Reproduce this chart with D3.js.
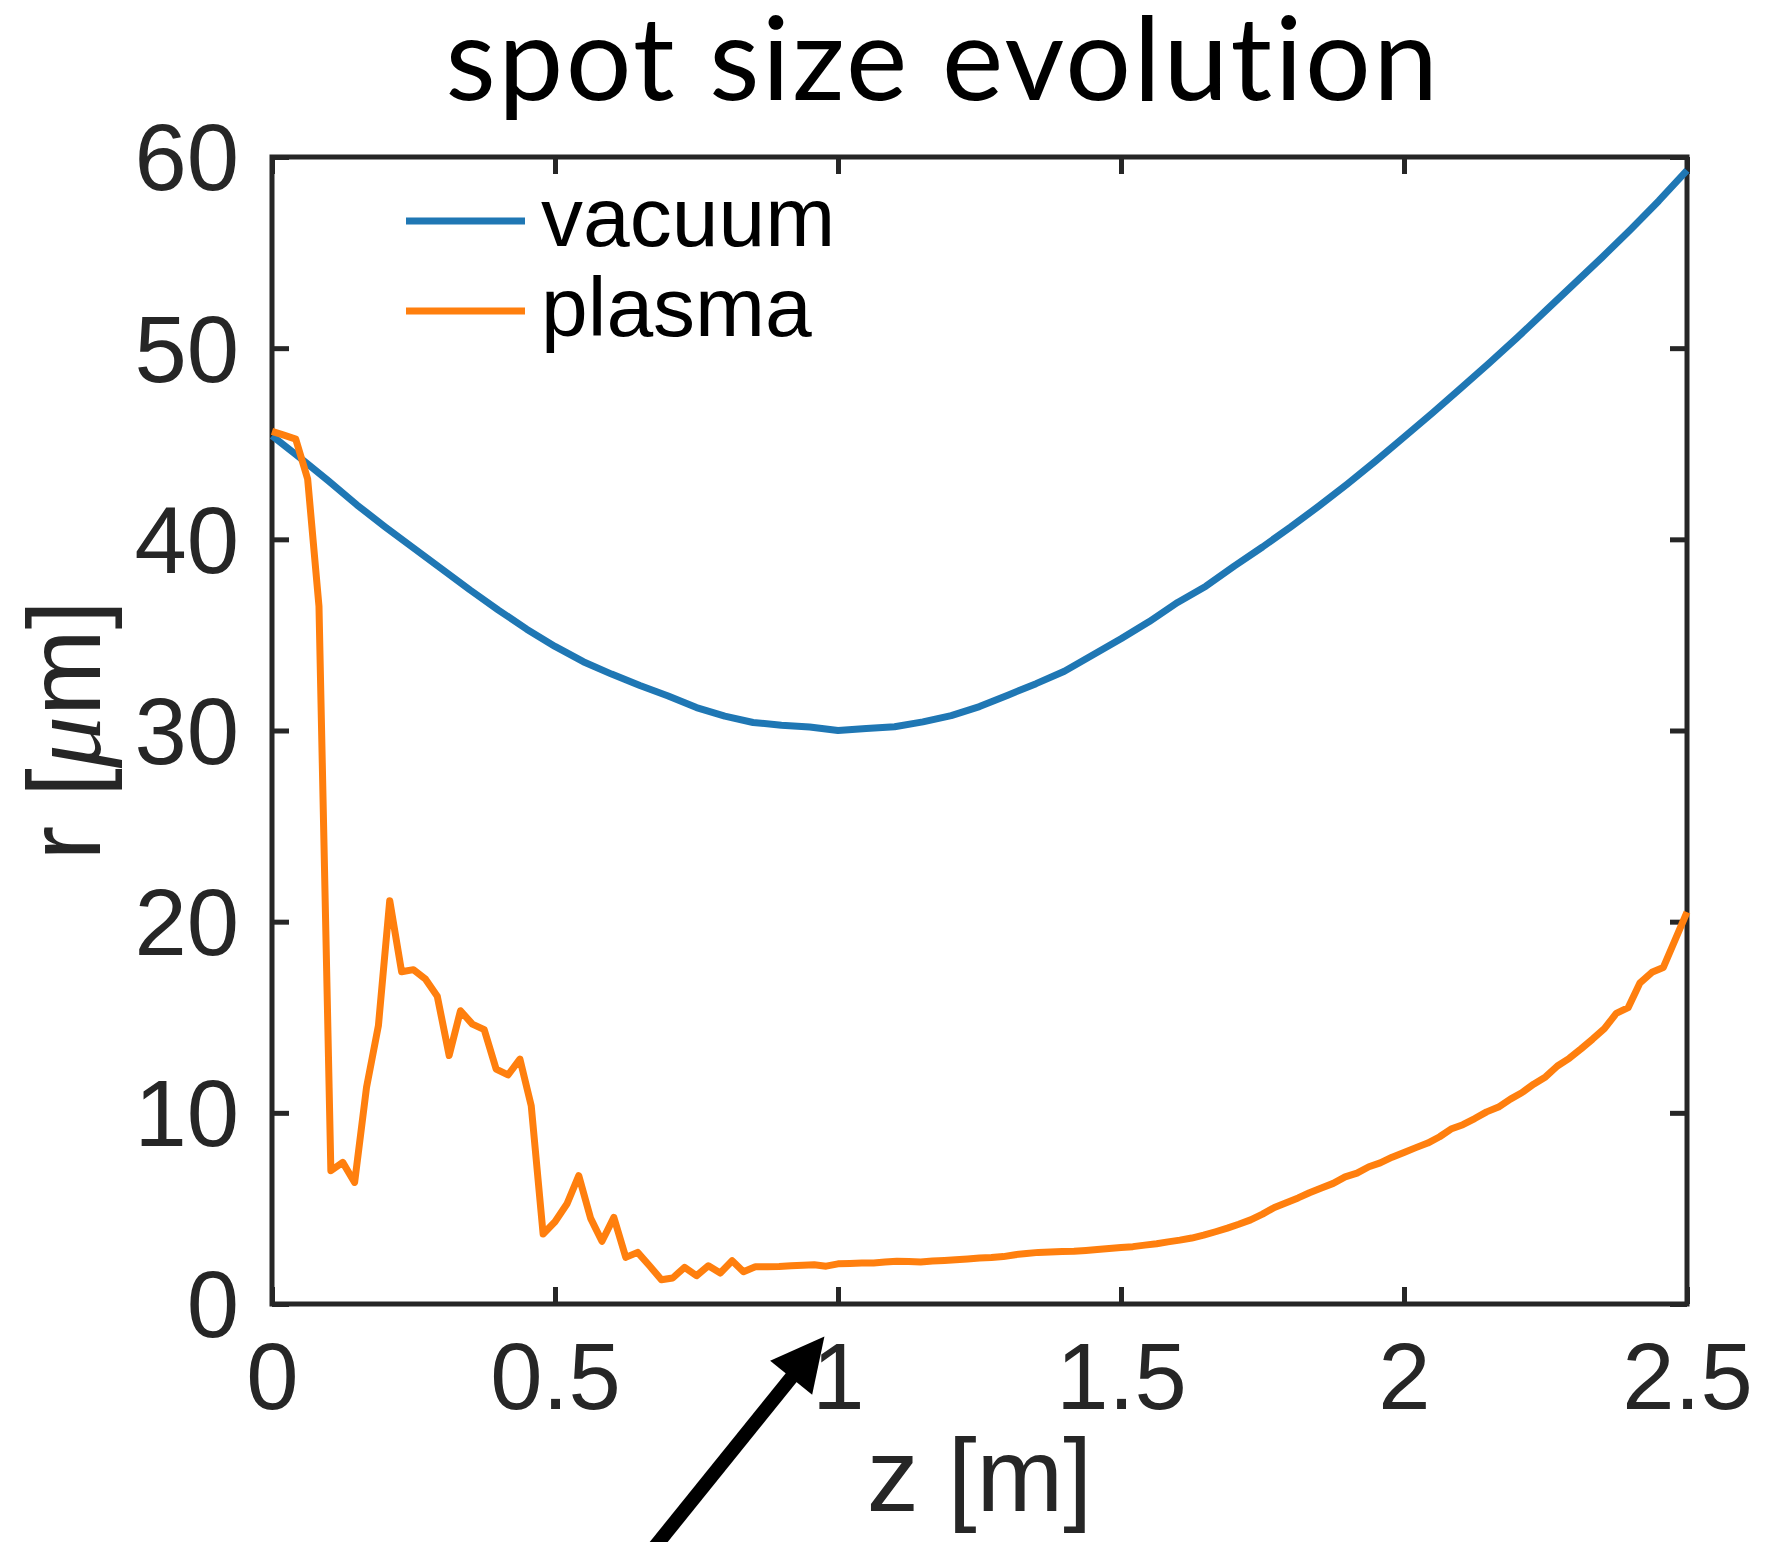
<!DOCTYPE html>
<html>
<head>
<meta charset="utf-8">
<script src="https://cdn.jsdelivr.net/npm/d3@7"></script>
<style>
  body { margin: 0; background: #fff; }
  svg { display: block; }
</style>
</head>
<body>
<svg id="plot"></svg>
<script>
// spot size r [um] along z [m]
const zTicks = [0, 0.5, 1, 1.5, 2, 2.5];
const rTicks = [0, 10, 20, 30, 40, 50, 60];

const seriesNames = ["vacuum", "plasma"];
const seriesColors = ["#1f77b4", "#ff7f0e"];

const vacuumZ = [0, 0.05, 0.1, 0.15, 0.2, 0.25, 0.3, 0.35, 0.4, 0.45,
  0.5, 0.55, 0.6, 0.65, 0.7, 0.75, 0.8, 0.85, 0.9, 0.95,
  1.0, 1.05, 1.1, 1.15, 1.2, 1.25, 1.3, 1.35, 1.4, 1.45,
  1.5, 1.55, 1.6, 1.65, 1.7, 1.75, 1.8, 1.85, 1.9, 1.95,
  2.0, 2.05, 2.1, 2.15, 2.2, 2.25, 2.3, 2.35, 2.4, 2.45, 2.5];
const vacuumR = [45.42, 44.25, 43.05, 41.8, 40.65, 39.55, 38.45, 37.35, 36.3, 35.3,
  34.4, 33.6, 32.95, 32.35, 31.8, 31.2, 30.75, 30.42, 30.28, 30.18,
  30.0, 30.1, 30.2, 30.45, 30.78, 31.25, 31.85, 32.45, 33.1, 33.95,
  34.8, 35.7, 36.7, 37.55, 38.6, 39.6, 40.65, 41.75, 42.9, 44.1,
  45.35, 46.6, 47.9, 49.2, 50.55, 51.95, 53.35, 54.75, 56.2, 57.7, 59.3];

const plasmaZ = [0, 0.021, 0.042, 0.063, 0.083, 0.104, 0.125, 0.146, 0.167, 0.188,
  0.208, 0.229, 0.25, 0.271, 0.292, 0.313, 0.333, 0.354, 0.375, 0.396,
  0.417, 0.438, 0.458, 0.479, 0.5, 0.521, 0.542, 0.563, 0.583, 0.604,
  0.625, 0.646, 0.667, 0.688, 0.708, 0.729, 0.75, 0.771, 0.792, 0.813,
  0.833, 0.854, 0.875, 0.896, 0.917, 0.938, 0.958, 0.979, 1.0, 1.021,
  1.042, 1.063, 1.083, 1.104, 1.125, 1.146, 1.167, 1.188, 1.208, 1.229,
  1.25, 1.271, 1.292, 1.313, 1.333, 1.354, 1.375, 1.396, 1.417, 1.438,
  1.458, 1.479, 1.5, 1.521, 1.542, 1.563, 1.583, 1.604, 1.625, 1.646,
  1.667, 1.688, 1.708, 1.729, 1.75, 1.771, 1.792, 1.813, 1.833, 1.854,
  1.875, 1.896, 1.917, 1.938, 1.958, 1.979, 2.0, 2.021, 2.042, 2.063,
  2.083, 2.104, 2.125, 2.146, 2.167, 2.188, 2.208, 2.229, 2.25, 2.271,
  2.292, 2.313, 2.333, 2.354, 2.375, 2.396, 2.417, 2.438, 2.458, 2.479, 2.5];
const plasmaR = [45.65, 45.45, 45.24, 43.15, 36.5, 6.97, 7.41, 6.36, 11.33, 14.56,
  21.1, 17.38, 17.49, 17.0, 16.1, 13.0, 15.34, 14.64, 14.35, 12.29,
  11.98, 12.81, 10.37, 3.66, 4.3, 5.23, 6.71, 4.48, 3.28, 4.53,
  2.44, 2.7, 2.0, 1.27, 1.36, 1.92, 1.48, 2.0, 1.62, 2.26,
  1.69, 1.95, 1.95, 1.96, 2.0, 2.03, 2.05, 1.98, 2.1, 2.12,
  2.14, 2.15, 2.2, 2.24, 2.22, 2.2, 2.25, 2.28, 2.32, 2.36,
  2.41, 2.43, 2.48, 2.58, 2.64, 2.7, 2.72, 2.74, 2.76, 2.8,
  2.85, 2.9, 2.96, 3.0, 3.08, 3.15, 3.25, 3.34, 3.45, 3.6,
  3.78, 3.97, 4.17, 4.4, 4.7, 5.05, 5.3, 5.55, 5.82, 6.07,
  6.31, 6.65, 6.85, 7.18, 7.38, 7.68, 7.93, 8.18, 8.42, 8.75,
  9.15, 9.38, 9.7, 10.05, 10.3, 10.72, 11.05, 11.5, 11.88, 12.45,
  12.85, 13.35, 13.85, 14.4, 15.2, 15.5, 16.8, 17.35, 17.6, 19.05, 20.5];

// arrow annotation below the axis (data units)
const arrowTip = [0.976, -1.7];
const arrowTail = [0.629, -14.44];

const W = 1768, H = 1542;
const axisColor = "#262626";
const sans = "'Liberation Sans', Arial, Helvetica, sans-serif";

const svg = d3.select("#plot").attr("width", W).attr("height", H);

const x = d3.scaleLinear().domain([0, 2.5]).range([272, 1687]);
const y = d3.scaleLinear().domain([0, 60]).range([1304, 157]);

const fmt = d3.format("");

// axes, ticks inward on all four sides
function styleAxis(g) {
  g.select(".domain").remove();
  g.selectAll(".tick line").attr("stroke", axisColor).attr("stroke-width", 5);
  g.selectAll(".tick text")
    .attr("fill", axisColor)
    .style("font-family", sans)
    .style("font-size", "94px");
}

svg.append("g")
  .attr("transform", `translate(0,${y(0)})`)
  .call(d3.axisBottom(x).tickValues(zTicks).tickSizeInner(-17).tickSizeOuter(0).tickFormat(fmt))
  .call(styleAxis)
  .call(g => g.selectAll(".tick text").attr("y", 105).attr("dy", null));

svg.append("g")
  .attr("transform", `translate(0,${y(60)})`)
  .call(d3.axisTop(x).tickValues(zTicks).tickSizeInner(-17).tickSizeOuter(0).tickFormat(""))
  .call(styleAxis);

svg.append("g")
  .attr("transform", `translate(${x(0)},0)`)
  .call(d3.axisLeft(y).tickValues(rTicks).tickSizeInner(-17).tickSizeOuter(0).tickPadding(33).tickFormat(fmt))
  .call(styleAxis)
  .call(g => g.selectAll(".tick text").attr("dy", "0.35em"));

svg.append("g")
  .attr("transform", `translate(${x(2.5)},0)`)
  .call(d3.axisRight(y).tickValues(rTicks).tickSizeInner(-17).tickSizeOuter(0).tickFormat(""))
  .call(styleAxis);

// box
svg.append("rect")
  .attr("x", x(0)).attr("y", y(60))
  .attr("width", x(2.5) - x(0)).attr("height", y(0) - y(60))
  .attr("fill", "none")
  .attr("stroke", axisColor)
  .attr("stroke-width", 5);

// data lines
const line = d3.line().x(d => x(d[0])).y(d => y(d[1]));
const series = [
  d3.zip(vacuumZ, vacuumR),
  d3.zip(plasmaZ, plasmaR)
];

svg.selectAll(".series")
  .data(series)
  .enter().append("path")
  .attr("class", "series")
  .attr("d", line)
  .attr("fill", "none")
  .attr("stroke", (d, i) => seriesColors[i])
  .attr("stroke-width", 7)
  .attr("stroke-linejoin", "round");

// legend
const legend = svg.append("g").attr("transform", "translate(406,221)");
seriesNames.forEach((name, i) => {
  legend.append("line")
    .attr("x1", 0).attr("x2", 119)
    .attr("y1", i * 90).attr("y2", i * 90)
    .attr("stroke", seriesColors[i])
    .attr("stroke-width", 7);
  legend.append("text")
    .attr("x", 135).attr("y", i * 90 + 25)
    .attr("fill", "#000")
    .style("font-family", sans)
    .style("font-size", "84px")
    .text(name);
});

// title
svg.append("text")
  .attr("x", 943).attr("y", 100)
  .attr("text-anchor", "middle")
  .attr("fill", "#000")
  .style("font-family", "Lato, 'Open Sans', sans-serif")
  .style("font-size", "116px")
  .style("letter-spacing", "2.5px")
  .style("font-variant-ligatures", "none")
  .text("spot size evolution");

// axis labels
svg.append("text")
  .attr("x", (x(0) + x(2.5)) / 2).attr("y", 1511)
  .attr("text-anchor", "middle")
  .attr("fill", axisColor)
  .style("font-family", sans)
  .style("font-size", "104px")
  .text("z [m]");

const ylab = svg.append("text")
  .attr("transform", `translate(100,${(y(0) + y(60)) / 2}) rotate(-90)`)
  .attr("text-anchor", "middle")
  .attr("fill", axisColor)
  .style("font-family", sans)
  .style("font-size", "104px");
ylab.append("tspan").text("r [");
ylab.append("tspan")
  .style("font-family", "'Liberation Serif', 'DejaVu Serif', serif")
  .style("font-style", "italic")
  .text("\u03bc");
ylab.append("tspan").text("m]");

// arrow
const tip = [x(arrowTip[0]), y(arrowTip[1])];
const tail = [x(arrowTail[0]), y(arrowTail[1])];
const len = Math.hypot(tip[0] - tail[0], tip[1] - tail[1]);
const u = [(tip[0] - tail[0]) / len, (tip[1] - tail[1]) / len];
const headLen = 53, headHalf = 27;
const base = [tip[0] - u[0] * headLen, tip[1] - u[1] * headLen];

svg.append("line")
  .attr("x1", tail[0]).attr("y1", tail[1])
  .attr("x2", base[0] + u[0] * 4).attr("y2", base[1] + u[1] * 4)
  .attr("stroke", "#000")
  .attr("stroke-width", 14);

svg.append("polygon")
  .attr("points", [
    tip,
    [base[0] - u[1] * headHalf, base[1] + u[0] * headHalf],
    [base[0] + u[1] * headHalf, base[1] - u[0] * headHalf]
  ].map(p => p.join(",")).join(" "))
  .attr("fill", "#000");
</script>
</body>
</html>
